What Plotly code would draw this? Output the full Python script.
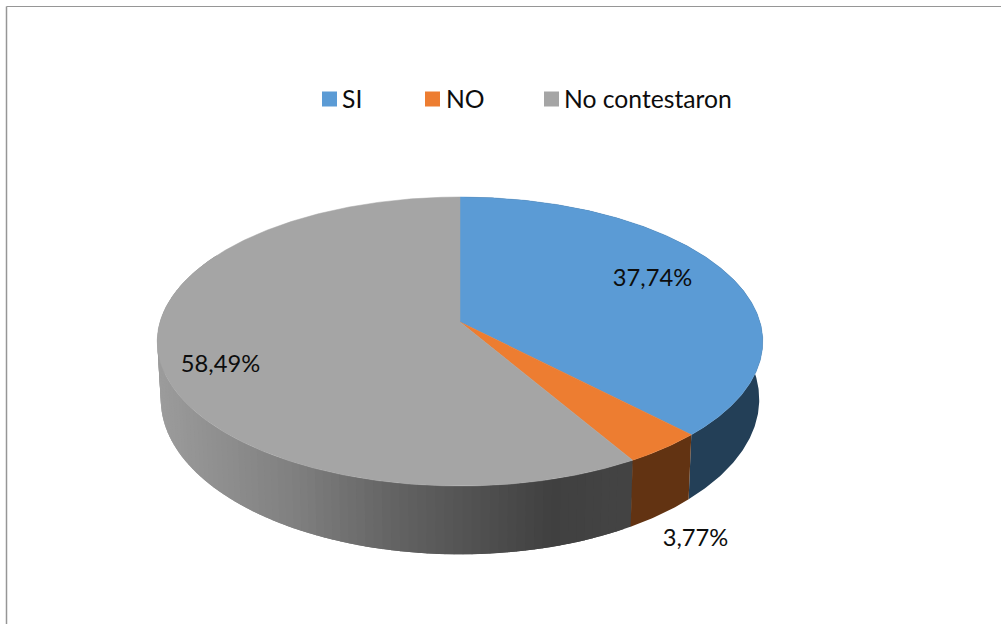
import numpy as np
import plotly.graph_objects as go

categories = ["SI", "NO", "No contestaron"]
shares = [37.74, 3.77, 58.49]
top_colors = ["#5B9BD5", "#ED7D31", "#A5A5A5"]
side_colors = ["#233F57", "#623312", None]

# Pixel-aligned canvas and the two perspective discs of the pie
W, H = 1001, 624
CX = 460
TOP = dict(A=300.0, a=-98.4, b=322.0, c=0.135)
BOT = dict(A=296.5, a=-101.0, b=378.5, c=0.135)
GREY_STOPS_X = [160, 300, 400, 560, 640]
GREY_STOPS_V = [0x9C, 0x80, 0x64, 0x40, 0x44]
FONT = "Lato"
TEXT = "#0D0D0D"


def project(deg, disc):
    t = np.radians(deg)
    u, v = np.sin(t), np.cos(t)
    d = disc["c"] * v + 1
    return CX + disc["A"] * u / d, (disc["a"] * v + disc["b"]) / d


def arc(start, end, step=0.5):
    n = max(int(abs(end - start) / step), 1) + 1
    return np.linspace(start, end, n)


fig = go.Figure()

cum = np.concatenate([[0], np.cumsum(shares)]) / sum(shares) * 360
spans = list(zip(cum[:-1], cum[1:]))

# Side wall: gradient bands of the last slice, painted so each overlaps the next
s, e = spans[2]
edges = arc(s, min(e, 300), step=1.5)
for a0, a1 in zip(edges[:-1][::-1], edges[1:][::-1]):
    th = arc(a0 - 0.1, min(a1 + 1.5, 300), step=0.5)
    xt, yt = project(th, TOP)
    xb, yb = project(th, BOT)
    xm = (project(a0, TOP)[0] + project(a1, TOP)[0] + project(a0, BOT)[0] + project(a1, BOT)[0]) / 4
    g = int(round(np.interp(xm, GREY_STOPS_X, GREY_STOPS_V)))
    col = f"rgb({g},{g},{g})"
    fig.add_trace(go.Scatter(
        x=np.r_[xt, xb[::-1], xt[0]], y=np.r_[yt, yb[::-1], yt[0]],
        mode="lines", fill="toself", fillcolor=col,
        line=dict(width=0), hoverinfo="skip", showlegend=False))

# Side wall: flat for the first two slices
for (s, e), col in zip(spans[:2], side_colors[:2]):
    th = arc(s, e)
    xt, yt = project(th, TOP)
    xb, yb = project(th, BOT)
    fig.add_trace(go.Scatter(
        x=np.r_[xt, xb[::-1], xt[0]], y=np.r_[yt, yb[::-1], yt[0]],
        mode="lines", fill="toself", fillcolor=col,
        line=dict(width=0), hoverinfo="skip", showlegend=False))

# Top face
ax, ay = CX, TOP["b"]
for (s, e), col, name in zip(spans, top_colors, categories):
    xt, yt = project(arc(s, e), TOP)
    fig.add_trace(go.Scatter(
        x=np.r_[ax, xt, ax], y=np.r_[ay, yt, ay],
        mode="lines", fill="toself", fillcolor=col,
        line=dict(color=col, width=0.5), name=name, showlegend=False,
        hovertemplate=name + "<extra></extra>"))

# Legend row
legend_x = [329.5, 432.5, 551.5]
legend_text_x = [342, 446, 564]
for name, col, lx, tx in zip(categories, top_colors, legend_x, legend_text_x):
    fig.add_trace(go.Scatter(
        x=[lx], y=[99], mode="markers",
        marker=dict(symbol="square", size=15, color=col),
        cliponaxis=False, hoverinfo="skip", showlegend=False))
    fig.add_trace(go.Scatter(
        x=[tx], y=[102], mode="text", text=[name], textposition="middle right",
        textfont=dict(family=FONT, size=24.7, color=TEXT),
        cliponaxis=False, hoverinfo="skip", showlegend=False))

# Data labels
label_x = [652.5, 695.5, 220.5]
label_y = [280.5, 540.5, 366.5]
labels = [f"{v:.2f}".replace(".", ",") + "%" for v in shares]
fig.add_trace(go.Scatter(
    x=label_x, y=label_y, mode="text", text=labels, textposition="middle center",
    textfont=dict(family=FONT, size=23.7, color=TEXT),
    hoverinfo="skip", showlegend=False))

fig.update_layout(
    width=W, height=H, margin=dict(l=0, r=0, t=0, b=0),
    paper_bgcolor="white", plot_bgcolor="white", showlegend=False,
    xaxis=dict(range=[0, W], visible=False, fixedrange=True),
    yaxis=dict(range=[H, 0], visible=False, fixedrange=True),
    shapes=[
        dict(type="line", xref="x", yref="y", x0=6.5, y0=6.5, x1=W, y1=6.5,
             line=dict(color="#969696", width=1)),
        dict(type="line", xref="x", yref="y", x0=6.5, y0=6.5, x1=6.5, y1=H,
             line=dict(color="#969696", width=1.5)),
    ],
)

fig.write_html("out.html", config=dict(displayModeBar=False),
               post_script="document.body.style.margin='0';")
